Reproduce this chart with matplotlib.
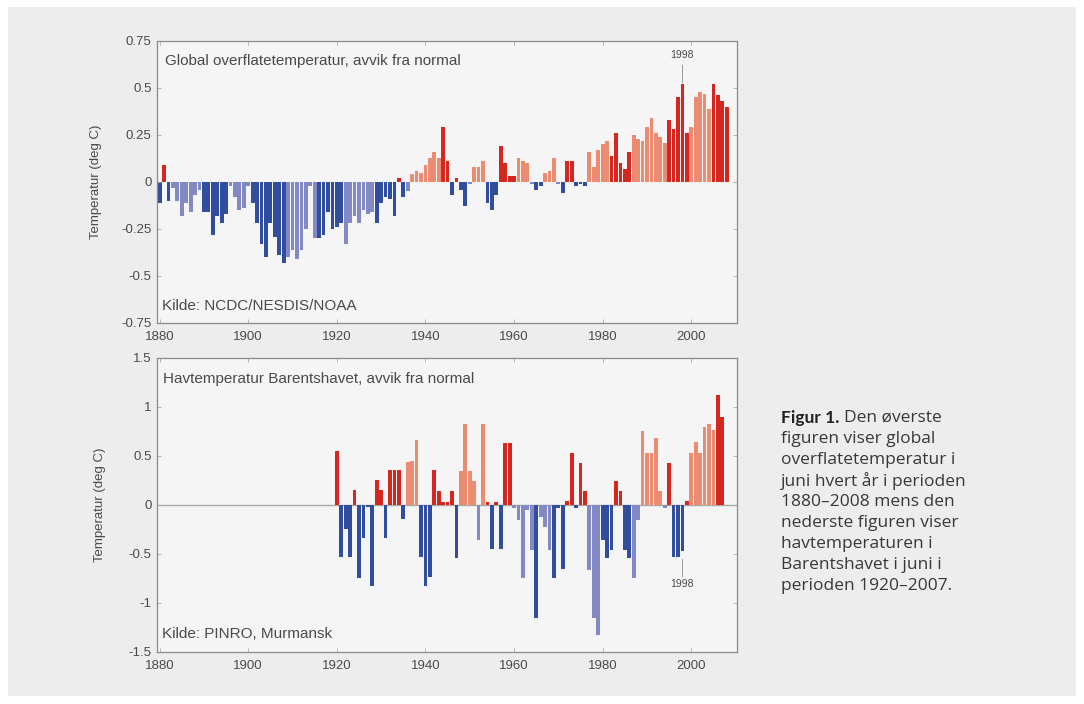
import numpy as np
import matplotlib
matplotlib.use('Agg')
import matplotlib.pyplot as plt
from matplotlib.patches import Rectangle

# global surface temperature, June anomaly (deg C), 1880-2008
global_years = list(range(1880, 2009))
global_temp = [
    -0.11, 0.09, -0.10, -0.03, -0.10, -0.18, -0.11, -0.16, -0.07, -0.04,   # 1880s
    -0.16, -0.16, -0.28, -0.18, -0.22, -0.17, -0.02, -0.08, -0.15, -0.14,  # 1890s
    -0.02, -0.11, -0.22, -0.33, -0.40, -0.22, -0.29, -0.39, -0.43, -0.40,  # 1900s
    -0.36, -0.41, -0.36, -0.25, -0.02, -0.30, -0.30, -0.28, -0.16, -0.25,  # 1910s
    -0.24, -0.22, -0.33, -0.22, -0.18, -0.22, -0.15, -0.17, -0.16, -0.22,  # 1920s
    -0.11, -0.08, -0.09, -0.18, 0.02, -0.08, -0.05, 0.04, 0.06, 0.05,      # 1930s
    0.09, 0.13, 0.16, 0.13, 0.29, 0.11, -0.07, 0.02, -0.04, -0.13,         # 1940s
    -0.01, 0.08, 0.08, 0.11, -0.11, -0.15, -0.07, 0.19, 0.10, 0.03,        # 1950s
    0.03, 0.13, 0.11, 0.10, -0.01, -0.04, -0.02, 0.05, 0.06, 0.13,         # 1960s
    -0.01, -0.06, 0.11, 0.11, -0.02, -0.01, -0.02, 0.16, 0.08, 0.17,       # 1970s
    0.20, 0.22, 0.14, 0.26, 0.10, 0.07, 0.16, 0.25, 0.23, 0.22,            # 1980s
    0.29, 0.34, 0.26, 0.24, 0.21, 0.33, 0.28, 0.45, 0.52, 0.26,            # 1990s
    0.29, 0.45, 0.48, 0.47, 0.39, 0.52, 0.46, 0.43, 0.40,                  # 2000s
]

# Barents Sea temperature, June anomaly (deg C), 1920-2007
barents_years = list(range(1920, 2008))
barents_temp = [
    0.55, -0.53, -0.25, -0.53, 0.15, -0.75, -0.34, -0.02, -0.83, 0.25,     # 1920s
    0.15, -0.34, 0.36, 0.36, 0.36, -0.14, 0.44, 0.45, 0.66, -0.53,         # 1930s
    -0.83, -0.73, 0.36, 0.14, 0.03, 0.03, 0.14, -0.54, 0.35, 0.83,         # 1940s
    0.35, 0.24, -0.36, 0.83, 0.035, -0.45, 0.035, -0.45, 0.63, 0.63,       # 1950s
    -0.03, -0.15, -0.75, -0.05, -0.46, -1.15, -0.12, -0.22, -0.46, -0.75,  # 1960s
    -0.03, -0.65, 0.04, 0.53, -0.03, 0.43, 0.14, -0.66, -1.15, -1.33,      # 1970s
    -0.36, -0.54, -0.46, 0.24, 0.14, -0.46, -0.54, -0.75, -0.15, 0.75,     # 1980s
    0.53, 0.53, 0.68, 0.14, -0.03, 0.43, -0.53, -0.53, -0.47, 0.04,        # 1990s
    0.53, 0.64, 0.53, 0.80, 0.83, 0.77, 1.12, 0.90,                        # 2000s
]

# year spans drawn in the lighter shade
global_light = [(1883, 1889), (1896, 1900), (1909, 1915), (1922, 1928), (1936, 1943),
                (1950, 1953), (1961, 1964), (1967, 1970), (1977, 1981), (1987, 1994),
                (2000, 2004)]
barents_light = [(1936, 1938), (1948, 1953), (1960, 1964), (1966, 1968), (1977, 1979),
                 (1987, 1994), (2000, 2005)]

RED, RED_L = '#d5261f', '#ea8b72'
BLUE, BLUE_L = '#314d9d', '#8389c4'
GREY = '#4a4a4a'


def bar_colors(years, vals, light):
    cols = []
    for y, v in zip(years, vals):
        lt = any(a <= y <= b for a, b in light)
        if v >= 0:
            cols.append(RED_L if lt else RED)
        else:
            cols.append(BLUE_L if lt else BLUE)
    return cols


def style_axes(ax, pad):
    ax.set_facecolor('#f4f5f4')
    for s in ax.spines.values():
        s.set_color('#8a8a8a')
        s.set_linewidth(0.9)
    ax.tick_params(direction='in', length=3, width=0.6, color='#aaaaaa',
                   top=True, right=True, labelsize=9.5, labelcolor=GREY, pad=4)
    ax.tick_params(axis='x', pad=6)
    ax.set_xlim(1879.4, 2010.3)
    ax.set_xticks([1880, 1900, 1920, 1940, 1960, 1980, 2000])
    ax.set_ylabel('Temperatur (deg C)', fontsize=9.5, color=GREY, labelpad=pad)


assert len(global_years) == len(global_temp)
assert len(barents_years) == len(barents_temp)

plt.rcParams['font.family'] = ['Liberation Sans', 'DejaVu Sans']

fig = plt.figure(figsize=(10.84, 7.04), dpi=100)
fig.patch.set_facecolor('white')
fig.patches.append(Rectangle((0.007, 0.012), 0.986, 0.978, transform=fig.transFigure,
                             facecolor='#ecedec', edgecolor='none', zorder=-10))

# top: global
ax1 = fig.add_axes([0.1448, 0.5412, 0.535, 0.4006])
style_axes(ax1, 14)
ax1.bar(global_years, global_temp, width=0.85,
        color=bar_colors(global_years, global_temp, global_light), linewidth=0)
ax1.set_ylim(-0.75, 0.75)
ax1.set_yticks([-0.75, -0.5, -0.25, 0, 0.25, 0.5, 0.75])
ax1.set_yticklabels(['-0.75', '-0.5', '-0.25', '0', '0.25', '0.5', '0.75'])
ax1.text(0.014, 0.93, 'Global overflatetemperatur, avvik fra normal',
         transform=ax1.transAxes, fontsize=11, color=GREY, va='center')
ax1.text(0.009, 0.06, 'Kilde: NCDC/NESDIS/NOAA',
         transform=ax1.transAxes, fontsize=11, color=GREY, va='center')
ax1.plot([1998, 1998], [0.62, 0.53], color='#999999', lw=0.7)
ax1.text(1998, 0.675, '1998', ha='center', va='center', fontsize=7.5, color=GREY)

# bottom: Barents Sea
ax2 = fig.add_axes([0.1448, 0.0739, 0.535, 0.4176])
style_axes(ax2, 16)
ax2.axhline(0, color='#a8a8a8', lw=1.0, zorder=0)
ax2.bar(barents_years, barents_temp, width=0.85,
        color=bar_colors(barents_years, barents_temp, barents_light), linewidth=0)
ax2.set_ylim(-1.5, 1.5)
ax2.set_yticks([-1.5, -1, -0.5, 0, 0.5, 1, 1.5])
ax2.set_yticklabels(['-1.5', '-1', '-0.5', '0', '0.5', '1', '1.5'])
ax2.text(0.01, 0.93, 'Havtemperatur Barentshavet, avvik fra normal',
         transform=ax2.transAxes, fontsize=11, color=GREY, va='center')
ax2.text(0.009, 0.06, 'Kilde: PINRO, Murmansk',
         transform=ax2.transAxes, fontsize=11, color=GREY, va='center')
ax2.plot([1998, 1998], [-0.72, -0.55], color='#999999', lw=0.7)
ax2.text(1998, -0.81, '1998', ha='center', va='center', fontsize=7.5, color=GREY)

# caption on the right
cap_lines = ['Den øverste', 'figuren viser global', 'overflatetemperatur i',
             'juni hvert år i perioden', '1880–2008 mens den',
             'nederste figuren viser', 'havtemperaturen i',
             'Barentshavet i juni i', 'perioden 1920–2007.']
cap_x = 781 / 1084
cap_font = ['Open Sans', 'DejaVu Sans']
fig.canvas.draw()
renderer = fig.canvas.get_renderer()
bold = fig.text(cap_x, 1 - 418 / 704, 'Figur 1.', fontsize=12.5, fontweight='bold',
                family=['Lato', 'DejaVu Sans'], color='#222222', va='center')
bb = bold.get_window_extent(renderer=renderer)
fig.text(bb.x1 / fig.bbox.width + 0.004, 1 - 418 / 704, cap_lines[0], fontsize=12.5,
         family=cap_font, color='#383838', va='center')
for i, line in enumerate(cap_lines[1:]):
    fig.text(cap_x, 1 - (418 + 21 * (i + 1)) / 704, line, fontsize=12.5,
             family=cap_font, color='#383838', va='center')

fig.savefig('out.png', dpi=100, facecolor=fig.get_facecolor())
